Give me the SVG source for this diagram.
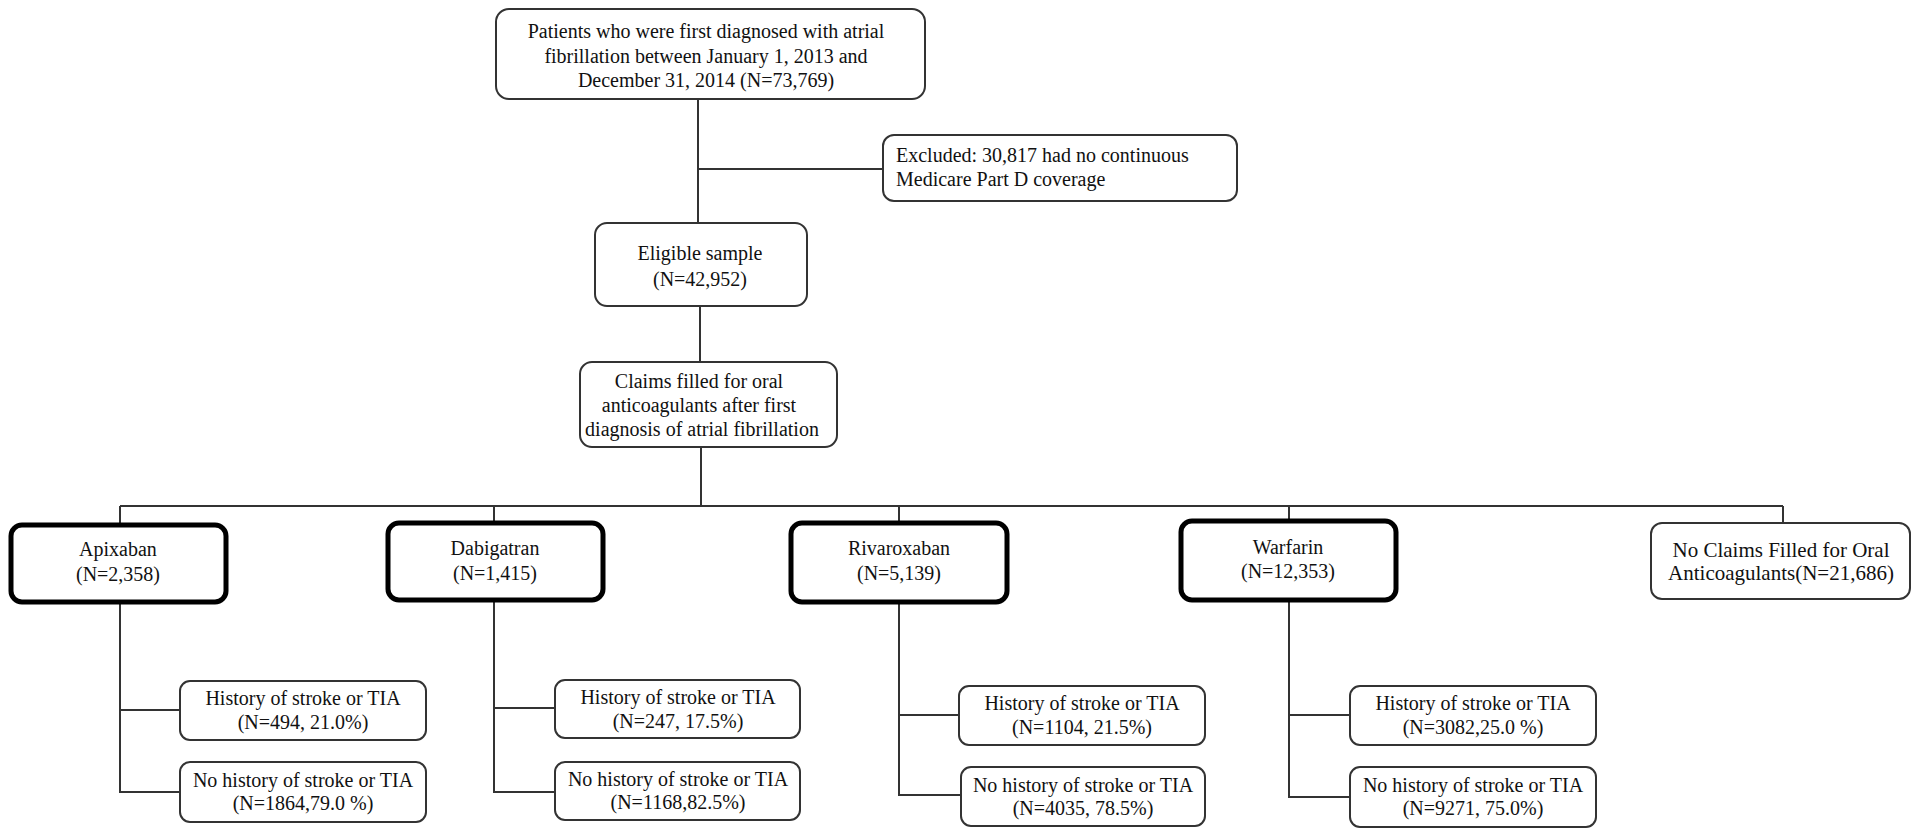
<svg xmlns="http://www.w3.org/2000/svg" width="1920" height="839" viewBox="0 0 1920 839">
<style>
  .box { fill: #fff; stroke: #333; stroke-width: 2; }
  .thick { fill: #fff; stroke: #000; stroke-width: 5; }
  .t { font-family: "Liberation Serif", "Times New Roman", serif; font-size: 20px; fill: #111; text-anchor: middle; }
  .tl { text-anchor: start; }
  .big { font-size: 21px; }
  .conn { fill: none; stroke: #333; stroke-width: 2; }
</style>
<rect width="1920" height="839" fill="#fff"/>

<g id="connectors">
  <path class="conn" d="M698 99 V223"/>
  <path class="conn" d="M698 169 H883"/>
  <path class="conn" d="M700 306 V362"/>
  <path class="conn" d="M701 447 V506"/>
  <path class="conn" d="M120 506 H1783"/>
  <path class="conn" d="M120 506 V525"/>
  <path class="conn" d="M494 506 V523"/>
  <path class="conn" d="M899 506 V523"/>
  <path class="conn" d="M1289 506 V521"/>
  <path class="conn" d="M1783 506 V523"/>
  <path class="conn" d="M120 602 V792 H180 M120 710 H180"/>
  <path class="conn" d="M494 600 V792 H555 M494 708 H555"/>
  <path class="conn" d="M899 602 V795 H961 M899 715 H959"/>
  <path class="conn" d="M1289 600 V797 H1350 M1289 715 H1350"/>
</g>

<g id="n-start">
  <rect class="box" x="496" y="9" width="429" height="90" rx="13"/>
  <text class="t" x="706" y="38">Patients who were first diagnosed with atrial</text>
  <text class="t" x="706" y="63">fibrillation between January 1, 2013 and</text>
  <text class="t" x="706" y="87">December 31, 2014 (N=73,769)</text>
</g>

<g id="n-excluded">
  <rect class="box" x="883" y="135" width="354" height="66" rx="11"/>
  <text class="t tl" x="896" y="162">Excluded: 30,817 had no continuous</text>
  <text class="t tl" x="896" y="186">Medicare Part D coverage</text>
</g>

<g id="n-eligible">
  <rect class="box" x="595" y="223" width="212" height="83" rx="12"/>
  <text class="t" x="700" y="260">Eligible sample</text>
  <text class="t" x="700" y="286">(N=42,952)</text>
</g>

<g id="n-claims">
  <rect class="box" x="580" y="362" width="257" height="85" rx="12"/>
  <text class="t" x="699" y="388">Claims filled for oral</text>
  <text class="t" x="699" y="412">anticoagulants after first</text>
  <text class="t" x="702" y="436">diagnosis of atrial fibrillation</text>
</g>

<g id="n-apixaban">
  <rect class="thick" x="11" y="525" width="215" height="77" rx="11"/>
  <text class="t" x="118" y="556">Apixaban</text>
  <text class="t" x="118" y="581">(N=2,358)</text>
</g>

<g id="n-dabigatran">
  <rect class="thick" x="388" y="523" width="215" height="77" rx="11"/>
  <text class="t" x="495" y="555">Dabigatran</text>
  <text class="t" x="495" y="580">(N=1,415)</text>
</g>

<g id="n-rivaroxaban">
  <rect class="thick" x="791" y="523" width="216" height="79" rx="11"/>
  <text class="t" x="899" y="555">Rivaroxaban</text>
  <text class="t" x="899" y="580">(N=5,139)</text>
</g>

<g id="n-warfarin">
  <rect class="thick" x="1181" y="521" width="215" height="79" rx="11"/>
  <text class="t" x="1288" y="554">Warfarin</text>
  <text class="t" x="1288" y="578">(N=12,353)</text>
</g>

<g id="n-noclaims">
  <rect class="box" x="1651" y="523" width="259" height="76" rx="11"/>
  <text class="t big" x="1781" y="557">No Claims Filled for Oral</text>
  <text class="t big" x="1781" y="580">Anticoagulants(N=21,686)</text>
</g>

<g id="n-apix-hist">
  <rect class="box" x="180" y="681" width="246" height="59" rx="10"/>
  <text class="t" x="303" y="705">History of stroke or TIA</text>
  <text class="t" x="303" y="729">(N=494, 21.0%)</text>
</g>
<g id="n-apix-nohist">
  <rect class="box" x="180" y="762" width="246" height="60" rx="10"/>
  <text class="t" x="303" y="787">No history of stroke or TIA</text>
  <text class="t" x="303" y="810">(N=1864,79.0 %)</text>
</g>

<g id="n-dabi-hist">
  <rect class="box" x="555" y="680" width="245" height="58" rx="10"/>
  <text class="t" x="678" y="704">History of stroke or TIA</text>
  <text class="t" x="678" y="728">(N=247, 17.5%)</text>
</g>
<g id="n-dabi-nohist">
  <rect class="box" x="555" y="762" width="245" height="58" rx="10"/>
  <text class="t" x="678" y="786">No history of stroke or TIA</text>
  <text class="t" x="678" y="809">(N=1168,82.5%)</text>
</g>

<g id="n-riva-hist">
  <rect class="box" x="959" y="686" width="246" height="59" rx="10"/>
  <text class="t" x="1082" y="710">History of stroke or TIA</text>
  <text class="t" x="1082" y="734">(N=1104, 21.5%)</text>
</g>
<g id="n-riva-nohist">
  <rect class="box" x="961" y="767" width="244" height="59" rx="10"/>
  <text class="t" x="1083" y="792">No history of stroke or TIA</text>
  <text class="t" x="1083" y="815">(N=4035, 78.5%)</text>
</g>

<g id="n-warf-hist">
  <rect class="box" x="1350" y="686" width="246" height="59" rx="10"/>
  <text class="t" x="1473" y="710">History of stroke or TIA</text>
  <text class="t" x="1473" y="734">(N=3082,25.0 %)</text>
</g>
<g id="n-warf-nohist">
  <rect class="box" x="1350" y="767" width="246" height="60" rx="10"/>
  <text class="t" x="1473" y="792">No history of stroke or TIA</text>
  <text class="t" x="1473" y="815">(N=9271, 75.0%)</text>
</g>
</svg>
